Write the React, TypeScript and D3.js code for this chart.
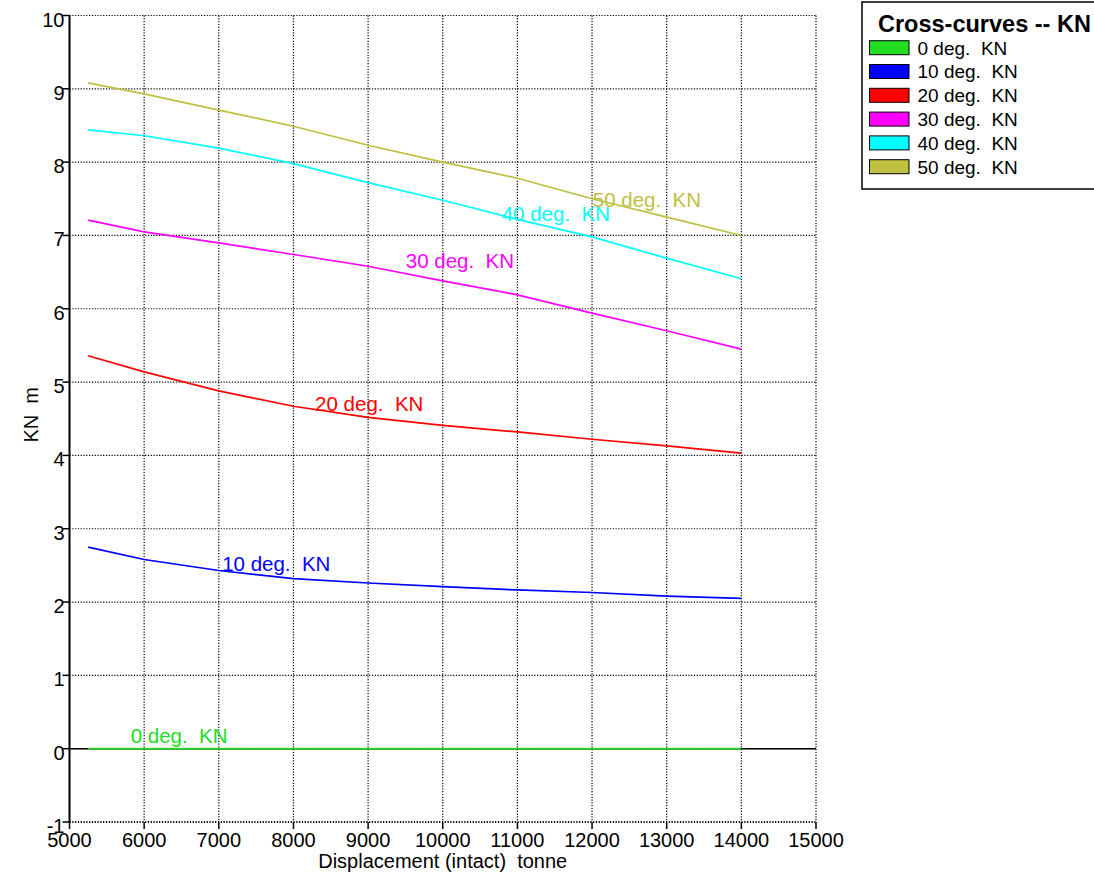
import React from "react";
import * as d3 from "d3";

const displacement = [5250, 6000, 7000, 8000, 9000, 10000, 11000, 12000, 13000, 14000];
const kn0 = [0, 0, 0, 0, 0, 0, 0, 0, 0, 0];
const kn10 = [2.75, 2.58, 2.43, 2.32, 2.26, 2.21, 2.165, 2.13, 2.08, 2.05];
const kn20 = [5.36, 5.14, 4.88, 4.67, 4.52, 4.41, 4.32, 4.22, 4.13, 4.03];
const kn30 = [7.21, 7.05, 6.9, 6.74, 6.58, 6.38, 6.19, 5.94, 5.7, 5.45];
const kn40 = [8.44, 8.36, 8.19, 7.98, 7.72, 7.48, 7.22, 6.98, 6.69, 6.41];
const kn50 = [9.08, 8.93, 8.71, 8.49, 8.23, 8.0, 7.78, 7.5, 7.25, 7.0];

const seriesNames = ["0 deg.  KN", "10 deg.  KN", "20 deg.  KN", "30 deg.  KN", "40 deg.  KN", "50 deg.  KN"];
const seriesColors = ["#22dd22", "#0000ff", "#ff0000", "#ff00ff", "#00ffff", "#bfbf40"];
const seriesValues = [kn0, kn10, kn20, kn30, kn40, kn50];
// label anchor positions in data units [displacement, KN]
const labelX = [5820, 7045, 8290, 9505, 10790, 12010];
const labelY = [0.08, 2.43, 4.6, 6.55, 7.2, 7.39];

const xTicks = [5000, 6000, 7000, 8000, 9000, 10000, 11000, 12000, 13000, 14000, 15000];
const yTicks = [-1, 0, 1, 2, 3, 4, 5, 6, 7, 8, 9, 10];

const FONT = "'Liberation Sans', Arial, sans-serif";

export default function App() {
  const left = 69.5, right = 816, top = 15.5, bottom = 822;
  const x = d3.scaleLinear().domain([5000, 15000]).range([left, right]);
  const y = d3.scaleLinear().domain([-1, 10]).range([bottom, top]);
  const line = d3
    .line<[number, number]>()
    .x((d) => x(d[0]))
    .y((d) => y(d[1]));

  return (
    <div style={{ position: "absolute", left: 0, top: 0 }}>
      <svg width={1094} height={875} style={{ display: "block", background: "#fff" }} fontFamily={FONT}>
        {/* grid */}
        {xTicks.slice(1).map((t) => (
          <line key={"gx" + t} x1={x(t)} x2={x(t)} y1={top} y2={bottom} stroke="#000" strokeWidth={1.2} strokeDasharray="1.2,1.6" />
        ))}
        {yTicks.map((t) => (
          <line key={"gy" + t} x1={left} x2={right} y1={y(t)} y2={y(t)} stroke="#000" strokeWidth={t === -1 ? 2 : 1.2} strokeDasharray="1.2,1.6" />
        ))}
        {/* zero line */}
        <line x1={left} x2={right} y1={y(0)} y2={y(0)} stroke="#000" strokeWidth={1.6} />
        {/* left axis */}
        <line x1={left} x2={left} y1={top} y2={bottom + 1} stroke="#000" strokeWidth={2} />
        {yTicks.map((t) => (
          <g key={"yt" + t}>
            <line x1={left - 7} x2={left} y1={y(t)} y2={y(t)} stroke="#000" strokeWidth={1.5} />
            <text x={left - 5} y={y(t) + 11} textAnchor="end" fontSize={20} fill="#000">
              {t}
            </text>
          </g>
        ))}
        {xTicks.map((t) => (
          <g key={"xt" + t}>
            <line x1={x(t)} x2={x(t)} y1={bottom} y2={bottom + 7} stroke="#000" strokeWidth={1.5} />
            <text x={x(t)} y={bottom + 25} textAnchor="middle" fontSize={20} fill="#000">
              {t}
            </text>
          </g>
        ))}
        {/* series */}
        {seriesValues.map((vals, i) => (
          <path
            key={"s" + i}
            d={line(displacement.map((d, j) => [d, vals[j]]) as [number, number][]) || ""}
            fill="none"
            stroke={seriesColors[i]}
            strokeWidth={1.7}
          />
        ))}
        {seriesNames.map((n, i) => (
          <text key={"l" + i} x={x(labelX[i])} y={y(labelY[i])} fontSize={20.5} fill={seriesColors[i]} style={{ whiteSpace: "pre" }}>
            {n}
          </text>
        ))}
        {/* axis titles */}
        <text x={(left + right) / 2} y={867.5} textAnchor="middle" fontSize={20} fill="#000" style={{ whiteSpace: "pre" }}>
          {"Displacement (intact)  tonne"}
        </text>
        <text transform={`translate(38,${(top + bottom) / 2 - 4}) rotate(-90)`} textAnchor="middle" fontSize={20} fill="#000" style={{ whiteSpace: "pre" }}>
          {"KN  m"}
        </text>
        {/* legend */}
        <rect x={862} y={2} width={260} height={187} fill="#fff" stroke="#000" strokeWidth={1.5} />
        <text x={878} y={31.5} fontSize={23.5} fontWeight="bold" fill="#000">
          Cross-curves -- KN
        </text>
        {seriesNames.map((n, i) => (
          <g key={"lg" + i}>
            <rect x={869.5} y={47.7 + i * 23.8 - 7} width={39.5} height={14} fill={seriesColors[i]} stroke="#000" strokeWidth={1} />
            <text x={917.5} y={47.7 + i * 23.8 + 6.8} fontSize={19} fill="#000" style={{ whiteSpace: "pre" }}>
              {n}
            </text>
          </g>
        ))}
      </svg>
    </div>
  );
}
